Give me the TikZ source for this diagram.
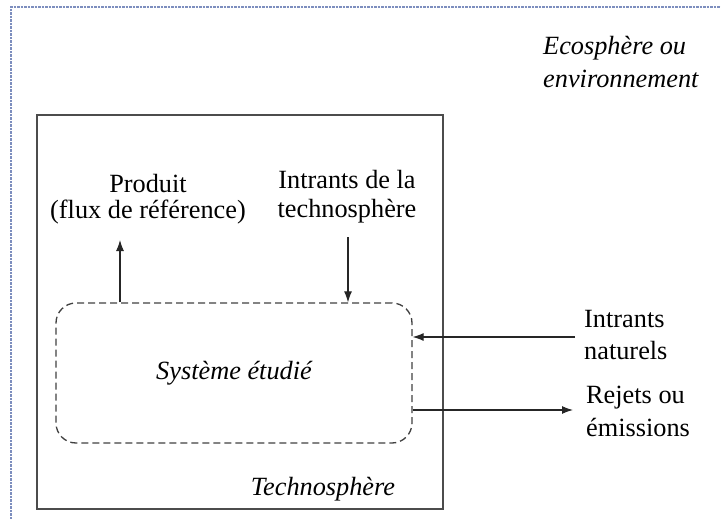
\documentclass[tikz,border=0pt]{standalone}
\usepackage{fontspec}
\setmainfont{Liberation Serif}
\usetikzlibrary{positioning, arrows.meta}
\definecolor{ecoblue}{RGB}{125,142,190}

\begin{document}
\begin{tikzpicture}[x=1pt, y=-1pt,
    txt/.style={font=\fontsize{26.3}{#1}\selectfont, inner sep=0pt},
    txt/.default=28,
    itxt/.style={font=\fontsize{26.3}{33}\selectfont\itshape, inner sep=0pt},
    flow/.style={draw=black!85, line width=1.1pt, -{Latex[length=11pt,width=8pt]}},
    sysbox/.style={draw=black!75, line width=1.3pt, dash pattern=on 7pt off 4pt,
        rounded corners=20pt, minimum width=356pt, minimum height=140pt}]
    \useasboundingbox (0,0) rectangle (721,519);
    % ecosphere and technosphere
    \draw[draw=ecoblue, line width=1.3pt, dash pattern=on 2.5pt off 1pt] (11,519) -- (11,7) -- (721,7);
    \node[draw=black!70, line width=2pt, minimum width=406pt, minimum height=394pt, inner sep=0pt] (techno) at (240,312) {};
    \node[itxt, anchor=base west, align=left] (eco) at (543,88) {Ecosphère ou\\environnement};
    \node[itxt, anchor=base] (technolbl) at (323,495) {Technosphère};
    % studied system
    \node[sysbox, itxt] (sys) at (234,373) {Système étudié};
    % flows
    \node[txt=26, anchor=base, align=center] (prod) at (148,218) {Produit\\(flux de référence)};
    \node[txt=29, anchor=base, align=center] (techin) at (347,217) {Intrants de la\\technosphère};
    \node[txt=32, anchor=base west, align=left] (nat) at (584,359) {Intrants\\naturels};
    \node[txt=33, anchor=base west, align=left] (rej) at (586,436) {Rejets ou\\émissions};
    \coordinate (prodtip) at (120,240);
    \coordinate (techstart) at (348,237);
    \coordinate (natstart) at (575,337);
    \coordinate (rejend) at (573,410);
    \draw[flow] (prodtip |- sys.north) -- (prodtip);
    \draw[flow] (techstart) -- (techstart |- sys.north);
    \draw[flow] (natstart) -- (natstart -| sys.east);
    \draw[flow] (rejend -| sys.east) -- (rejend);
\end{tikzpicture}
\end{document}
